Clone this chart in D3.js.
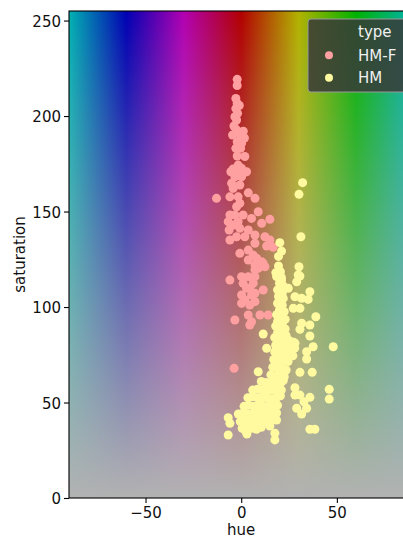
<!DOCTYPE html>
<html><head><meta charset="utf-8">
<script src="https://cdn.jsdelivr.net/npm/d3@7"></script>
<style>html,body{margin:0;padding:0;background:#fff;overflow:hidden}</style>
</head><body><svg id="c" width="403" height="538"></svg>
<script>
const hueTicks=[-50,0,50];
const satTicks=[0,50,100,150,200,250];
const bgHueStops=[-90,-60,-30,0,30,60,90];
const bgHueColors=["#00b2b2","#0000b2","#b200b2","#b20000","#b2b200","#00b200","#00b2b2"];
const seriesNames=["HM-F","HM"];
const seriesColors=["#ffa0a0","#fffaa0"];
const legendTitle="type";

const hmfPoints=[
[-2.1,219.2],[-2.1,216.0],[-2.8,209.2],[-2.1,206.6],[-1.0,205.5],[-2.8,203.9],[-1.9,201.4],[-3.3,199.6],[-2.4,197.9],[-3.8,194.8],
[-2.4,192.7],[-0.7,190.9],[-4.5,190.1],[1.1,192.1],[-0.2,189.2],[1.7,188.5],[-2.1,186.5],[0.2,185.7],[-2.8,183.1],[-0.3,183.1],
[-2.1,179.1],[1.9,178.8],[-1.6,174.3],[-4.2,172.3],[0.2,172.6],[-5.4,170.8],[-1.6,170.0],[2.8,170.8],[-3.3,168.2],[0.2,168.2],
[1.0,170.0],[-5.0,164.8],[-0.7,163.9],[-4.2,162.1],[3.7,159.8],[-12.9,156.9],[-5.9,157.7],[-1.6,157.7],[7.2,156.9],[-0.7,154.3],
[-2.4,152.5],[-5.9,148.2],[-3.3,148.2],[1.0,148.2],[8.9,149.9],[5.4,146.4],[10.7,143.8],[15.0,145.9],[-6.8,144.7],[-1.6,144.7],
[-4.2,142.9],[-6.3,140.3],[-0.7,141.2],[3.7,140.3],[7.2,137.7],[-5.9,135.1],[-2.4,136.8],[1.9,136.8],[12.4,136.8],[15.0,135.1],
[7.2,133.4],[13.3,131.9],[16.7,131.3],[3.7,129.8],[-0.7,128.1],[6.3,127.2],[3.7,124.6],[8.1,125.5],[10.7,123.7],[8.9,120.3],
[12.4,121.1],[7.2,122.0],[11.5,122.8],[7.2,119.4],[-5.9,114.1],[0.2,115.9],[3.7,115.9],[7.2,115.9],[1.0,112.4],[6.3,112.4],
[2.8,109.8],[4.5,109.8],[11.5,108.9],[0.2,106.3],[5.4,106.3],[7.2,107.2],[1.9,103.7],[7.2,102.8],[0.2,101.9],[4.5,101.0],
[3.7,95.8],[9.8,95.8],[14.1,95.8],[-3.3,93.2],[5.4,92.3],[4.5,90.6],[-3.7,67.9]
];

const hmPoints=[
[32.1,165.1],[30.2,159.0],[31.2,136.8],[20.2,133.7],[21.1,129.3],[19.5,126.5],[30.2,121.1],[18.1,118.0],[30.7,116.2],[29.0,113.2],
[21.1,114.1],[24.6,109.8],[35.9,108.0],[28.1,105.4],[31.6,104.6],[35.0,104.0],[30.7,99.3],[27.2,99.3],[39.0,94.9],[31.6,91.5],
[35.9,90.6],[30.7,88.3],[35.9,84.8],[11.5,85.9],[13.3,78.4],[37.6,79.2],[48.1,79.2],[34.2,76.6],[34.2,72.8],[30.7,65.8],
[37.1,65.8],[8.9,66.1],[28.1,57.7],[28.1,53.9],[30.7,53.9],[35.9,52.7],[46.0,56.9],[46.0,51.8],[32.8,50.4],[29.0,47.0],
[34.2,47.0],[31.6,44.0],[35.9,36.0],[38.5,36.0],[-6.8,42.0],[-5.9,39.1],[-6.8,33.0],[2.3,35.1],[17.6,33.9],[17.6,30.4],
[18.5,40.8],[15.0,37.7],[28.1,81.0],[29.8,116.8],
[19.5,121.5],[20.5,118.5],[18.5,116],[21,115.5],[20,112.5],[22,111],
[19,109],[21.5,107.5],[19.5,105.5],[22,104.5],[19,102],[21.5,101],[20,98.5],[22.5,97.5],
[18.5,96],[21,95],[23,93.5],[19,92.5],[21.5,91.5],
[18,90],[20.5,89],[23,88.5],[19,86.5],[21.5,86],[23.5,85],
[17.5,84],[20,83],[22.5,82.5],[25,82.5],[27.5,81.5],
[18,80],[20.5,79.5],[23,79.5],[25.5,79],[28,78.5],
[17.5,76.5],[20,76],[22.5,76],[25,75.5],[27,74.5],
[17,72.5],[19.5,72],[22,72],[24.5,71.5],
[16.5,68.5],[19,68],[21.5,68],[23.5,67],
[15.5,64.5],[18,64],[20.5,64],[22.5,63.5],
[10.5,61],[13,60.5],[15.5,60.5],[18,60],[20.5,60],[22,61.5],
[6,56.5],[8.5,57],[11,56.5],[13.5,56.5],[16,56.5],[18.5,56],[21,56.5],
[3.5,52.5],[6,53],[8.5,52.5],[11,52.5],[13.5,52.5],[16,52],[18.5,52.5],[20.5,53.5],
[1.5,48],[4,48.5],[6.5,48],[9,48.5],[11.5,48],[14,48],[16.5,48],[19,48.5],
[-1.5,44],[1,44.5],[3.5,44],[6,44],[8.5,44.5],[11,44],[13.5,44],[16,44],[18.5,44.5],
[-0.5,40],[2,40.5],[4.5,40],[7,40],[9.5,40.5],[12,40],[14.5,40.5],[17,41],
[0.5,36.5],[3,36],[5.5,36.5],[8,36],[10.5,37],[3,33.5]
];

const series=[hmfPoints,hmPoints];

const svg=d3.select("#c");
const L=69,R=413.4,T=11,B=498;
const x=d3.scaleLinear().domain([-90,90]).range([L,R]);
const y=d3.scaleLinear().domain([0,255]).range([B,T]);
const font="DejaVu Sans, sans-serif";

const defs=svg.append("defs");
const hg=defs.append("linearGradient").attr("id","hueG").attr("gradientUnits","userSpaceOnUse")
  .attr("x1",x(-90)).attr("x2",x(90)).attr("y1",0).attr("y2",0);
bgHueStops.forEach((h,i)=>hg.append("stop").attr("offset",(h+90)/180).attr("stop-color",bgHueColors[i]));
const sg=defs.append("linearGradient").attr("id","satG").attr("gradientUnits","userSpaceOnUse")
  .attr("x1",0).attr("x2",0).attr("y1",y(0)).attr("y2",y(255));
sg.append("stop").attr("offset",0).attr("stop-color","#b2b2b2").attr("stop-opacity",1);
sg.append("stop").attr("offset",1).attr("stop-color","#b2b2b2").attr("stop-opacity",0);
defs.append("clipPath").attr("id","clip").append("rect").attr("x",L).attr("y",T).attr("width",R-L).attr("height",B-T);

const plot=svg.append("g").attr("clip-path","url(#clip)");
plot.append("rect").attr("x",L).attr("y",T).attr("width",R-L).attr("height",B-T).attr("fill","url(#hueG)");
plot.append("rect").attr("x",L).attr("y",T).attr("width",R-L).attr("height",B-T).attr("fill","url(#satG)");

series.forEach((pts,i)=>{
  plot.append("g").selectAll("circle").data(pts).join("circle")
    .attr("cx",d=>x(d[0])).attr("cy",d=>y(d[1])).attr("r",4.5).attr("fill",seriesColors[i]);
});

svg.append("rect").attr("x",L).attr("y",T).attr("width",R-L).attr("height",B-T)
  .attr("fill","none").attr("stroke","#000").attr("stroke-width",1.1);

const xa=svg.append("g").attr("transform",`translate(0,${B})`)
  .call(d3.axisBottom(x).tickValues(hueTicks).tickSize(5).tickPadding(4).tickFormat(d=>d<0?"\u2212"+Math.abs(d):d));
const ya=svg.append("g").attr("transform",`translate(${L},0)`)
  .call(d3.axisLeft(y).tickValues(satTicks).tickSize(5).tickPadding(3));
[xa,ya].forEach(a=>{
  a.select(".domain").remove();
  a.selectAll("line").attr("stroke","#000").attr("stroke-width",1.1);
  a.selectAll("text").attr("font-family",font).attr("font-size",15).attr("fill","#111");
});
ya.selectAll("text").attr("dy","0.38em");

svg.append("text").attr("x",(L+R)/2).attr("y",535).attr("text-anchor","middle")
  .attr("font-family",font).attr("font-size",15).attr("fill","#111").text("hue");
svg.append("text").attr("transform",`translate(25,${(T+B)/2}) rotate(-90)`).attr("text-anchor","middle")
  .attr("font-family",font).attr("font-size",15).attr("fill","#111").text("saturation");

const lg=svg.append("g");
lg.append("rect").attr("x",308).attr("y",19).attr("width",100).attr("height",73).attr("rx",3)
  .attr("fill","#383838").attr("fill-opacity",0.85).attr("stroke","#9a9a9a").attr("stroke-width",1);
lg.append("text").attr("x",358).attr("y",37).attr("font-family",font).attr("font-size",15).attr("fill","#f0f0f0").text(legendTitle);
seriesNames.forEach((n,i)=>{
  const cy=55.3+i*22.4;
  lg.append("circle").attr("cx",329).attr("cy",cy).attr("r",4).attr("fill",seriesColors[i]);
  lg.append("text").attr("x",358).attr("y",cy+5.5).attr("font-family",font).attr("font-size",15).attr("fill","#f0f0f0").text(n);
});
</script></body></html>
